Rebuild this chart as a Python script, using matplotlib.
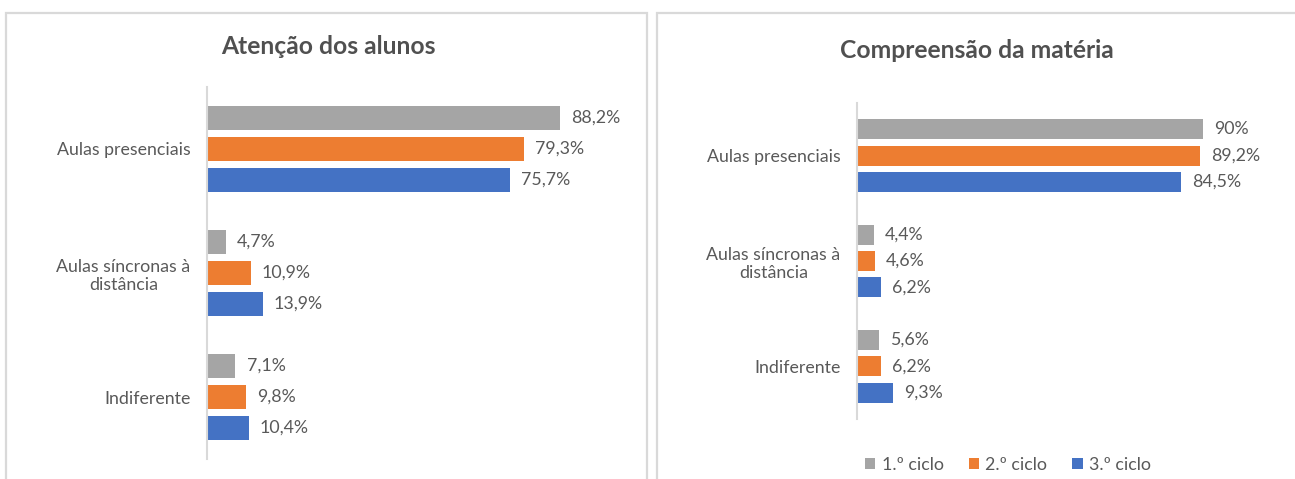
import numpy as np
import matplotlib
matplotlib.use("Agg")
import matplotlib.pyplot as plt
from matplotlib.patches import Rectangle

# data
categories = ["Aulas presenciais", "Aulas síncronas à\ndistância", "Indiferente"]
series = ["1.º ciclo", "2.º ciclo", "3.º ciclo"]
colors = ["#A5A5A5", "#ED7D31", "#4472C4"]

atencao = [
	[88.2, 4.7, 7.1],
	[79.3, 10.9, 9.8],
	[75.7, 13.9, 10.4],
]
atencao_labels = [
	["88,2%", "4,7%", "7,1%"],
	["79,3%", "10,9%", "9,8%"],
	["75,7%", "13,9%", "10,4%"],
]

compreensao = [
	[90.0, 4.4, 5.6],
	[89.2, 4.6, 6.2],
	[84.5, 6.2, 9.3],
]
compreensao_labels = [
	["90%", "4,4%", "5,6%"],
	["89,2%", "4,6%", "6,2%"],
	["84,5%", "6,2%", "9,3%"],
]

plt.rcParams['font.family'] = ['Lato', 'DejaVu Sans']
TXT = "#595959"
W, H = 1295, 479


def px_axes(fig, x, top, w, bottom):
	return fig.add_axes([x / W, 1 - bottom / H, w / W, (bottom - top) / H])


def draw_panel(ax, values, labels, bar_h):
	y = np.arange(len(categories))
	for k in range(len(series)):
		pos = y - 0.25 + 0.25 * k
		ax.barh(pos, values[k], height=bar_h, color=colors[k], label=series[k])
		for p, v, t in zip(pos, values[k], labels[k]):
			ax.annotate(t, (v, p), xytext=(8, 0), textcoords="offset points",
						va="center", ha="left", fontsize=12.8, color=TXT)
	ax.set_xlim(0, 100)
	ax.set_ylim(2.5, -0.5)
	ax.set_yticks(y)
	ax.set_yticklabels(categories, fontsize=12.8, color=TXT, ha="right",
					   multialignment="center")
	ax.tick_params(axis="y", length=0, pad=12)
	ax.set_xticks([])
	for s in ["top", "right", "bottom"]:
		ax.spines[s].set_visible(False)
	ax.spines["left"].set_color("#D9D9D9")
	ax.spines["left"].set_linewidth(1.5)


fig = plt.figure(figsize=(W / 100, H / 100), dpi=100)

# panel frames
for x0, x1 in [(6, 647), (657, 1320)]:
	fig.patches.append(Rectangle((x0 / W, -0.1), (x1 - x0) / W, 1.1 - 13 / H,
								 transform=fig.transFigure, fill=False,
								 edgecolor="#D9D9D9", linewidth=1.6))

ax1 = px_axes(fig, 207, 87, 400, 459)
draw_panel(ax1, atencao, atencao_labels, 0.2)
ax2 = px_axes(fig, 857, 103, 384, 419)
draw_panel(ax2, compreensao, compreensao_labels, 0.19)

fig.text(328 / W, 1 - 47 / H, "Atenção dos alunos", ha="center", va="center",
		 fontsize=17.7, fontweight="bold", color="#505050")
fig.text(977 / W, 1 - 50 / H, "Compreensão da matéria", ha="center", va="center",
		 fontsize=17.7, fontweight="bold", color="#505050")

fig.legend(*ax2.get_legend_handles_labels(), loc="center", ncol=3,
		   bbox_to_anchor=(1008 / W, 1 - 465 / H), frameon=False, fontsize=12.8,
		   labelcolor=TXT, handlelength=0.6, handleheight=0.6, handletextpad=0.35,
		   columnspacing=1.4)

fig.savefig("out.png", dpi=100)
